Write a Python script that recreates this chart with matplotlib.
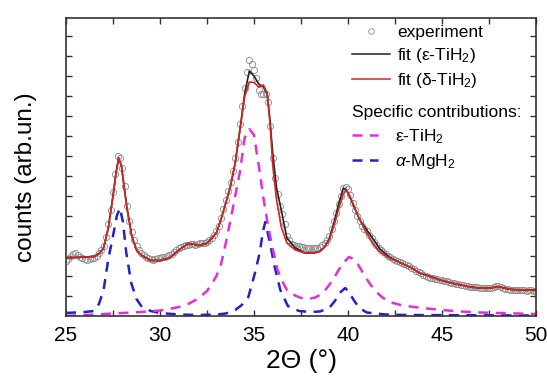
import numpy as np
import matplotlib
matplotlib.use("Agg")
import matplotlib.pyplot as plt
from matplotlib.lines import Line2D

plt.rcParams['font.family'] = ['Liberation Sans', 'DejaVu Sans']
plt.rcParams['mathtext.fontset'] = 'custom'
plt.rcParams['mathtext.rm'] = 'Liberation Sans'
plt.rcParams['mathtext.it'] = 'Liberation Sans:italic'

# measured pattern, 2theta step 0.125 deg from 25 to 50 (one row per degree)
exp_x = np.linspace(25, 50, 201)
exp_y = [55, 57, 60, 62, 63, 61, 59, 58,
         57, 56, 57, 58, 58, 60, 63, 66,
         70, 79, 92, 106, 124, 142, 160, 158,
         148, 130, 110, 95, 84, 76, 70, 66,
         63, 61, 59, 58, 57, 56, 57, 58,
         58, 59, 59, 60, 61, 62, 64, 66,
         68, 69, 70, 71, 71, 72, 72, 71,
         72, 73, 73, 73, 74, 76, 78, 81,
         85, 90, 98, 107, 116, 125, 134, 145,
         158, 174, 192, 210, 228, 244, 256, 252,
         246, 238, 226, 222, 222, 222, 214, 190,
         158, 138, 122, 110, 102, 92, 80, 76,
         72, 71, 70, 70, 69, 69, 68, 68,
         68, 68, 68, 68, 69, 71, 73, 76,
         80, 87, 95, 103, 112, 120, 128, 129,
         127, 121, 113, 106, 100, 95, 90, 87,
         85, 81, 78, 74, 71, 68, 66, 64,
         62, 60, 59, 57, 56, 55, 54, 53,
         52, 51, 50, 48, 47, 45, 44, 43,
         41, 40, 39, 38, 38, 37, 37, 36,
         36, 35, 35, 34, 33, 33, 32, 32,
         31, 31, 30, 30, 29, 29, 29, 29,
         28, 28, 28, 28, 28, 28, 29, 30,
         30, 29, 28, 27, 27, 26, 26, 26,
         26, 26, 26, 26, 25, 26, 26, 25,
         25]

# fits
fit_x = [25, 25.5, 26, 26.5, 26.75, 27, 27.25, 27.5, 27.65, 27.8, 27.95, 28.1,
         28.25, 28.5, 28.75, 29, 29.5, 30, 30.5, 31, 31.5, 31.75, 32, 32.5,
         33, 33.25, 33.5, 33.75, 34, 34.25, 34.5, 34.75, 35, 35.25, 35.5, 35.7,
         35.85, 36, 36.2, 36.45, 36.75, 37.2, 37.7, 38.2, 38.5, 38.75, 39, 39.25,
         39.5, 39.75, 39.92, 40.1, 40.3, 40.6, 41, 41.3, 41.7, 42.2, 42.8, 43.4,
         43.8, 44.3, 44.9, 45.5, 46, 46.5, 47, 47.6, 48, 48.3, 48.7, 49.3, 50]
fit_delta = [58, 58.5, 59, 59.5, 62, 68, 88, 120, 142, 158, 150, 128,
             107, 80, 66, 61, 55.5, 55.5, 58, 66, 72.5, 72, 70.5, 72.5,
             83, 97, 113, 130, 153, 186, 219, 234, 233.5, 229, 231, 223,
             193, 150, 116, 89, 73, 66, 63, 63, 64.5, 69, 76, 90,
             107, 122, 126, 120, 111, 97, 83, 73, 64, 58, 53, 48,
             43, 40, 36, 33, 31, 29, 28, 28, 29.5, 28, 26.5, 26, 26]
fit_eps = [58, 58.5, 59, 59.5, 62, 68, 88, 120, 142, 158, 150, 128,
           107, 80, 66, 61, 55.5, 55.5, 58, 66, 72.5, 72, 70.5, 72.5,
           83, 97, 113, 130, 153, 186, 222, 245, 240, 232, 229, 222,
           196, 162, 128, 106, 78, 68, 63, 63, 64.5, 69, 77, 93,
           112, 128, 126, 119, 110, 97, 86, 78, 67, 59, 53, 48,
           43, 40, 36, 33, 31, 29, 28, 28, 29.5, 28, 26.5, 26, 26]

# specific contributions
eps_x = [25, 26, 27, 28, 29, 30, 30.5, 31, 31.5, 32, 32.5, 32.75, 33, 33.25,
         33.5, 33.75, 34, 34.25, 34.5, 34.75, 35, 35.25, 35.5, 35.75, 36, 36.25,
         36.5, 36.75, 37, 37.5, 38, 38.25, 38.5, 38.75, 39, 39.25, 39.5, 39.75,
         40.05, 40.3, 40.55, 40.8, 41.1, 41.4, 41.8, 42.2, 42.8, 43.5, 44.2, 45,
         46, 47, 48, 49, 50]
eps_y = [0, 1, 2, 3, 4, 5.5, 7, 9, 12, 17, 25, 32, 40, 52,
         73, 96, 120, 144, 178, 187, 181, 151, 118, 90, 67, 46,
         35, 26, 22, 18, 17.5, 18.5, 21, 25, 31, 38, 46, 53,
         59, 57, 51, 43, 34, 26, 19, 14, 11, 9, 7.5, 6,
         4.5, 3.5, 3, 2.5, 2]
mg_x = [25, 25.5, 26, 26.5, 26.75, 27, 27.25, 27.5, 27.7, 27.87, 28.03, 28.2,
        28.47, 28.75, 29, 29.5, 30, 31, 32, 33, 33.5, 34, 34.35, 34.7, 35.05,
        35.3, 35.48, 35.6, 35.85, 36.1, 36.4, 36.8, 37.4, 38, 38.5, 39, 39.3,
        39.55, 39.85, 40.05, 40.3, 40.6, 41, 42, 43, 50]
mg_y = [3, 3.5, 4, 5, 12, 26, 57, 80, 100, 108, 94, 64,
        33, 17, 10, 5, 3, 1.5, 1, 1.5, 2.5, 6, 11, 19, 43,
        63, 85, 94, 73, 49, 26, 10, 5, 4, 4.5, 8, 15,
        23, 28, 24, 16, 8, 3.5, 1.5, 1, 0.5]

fig = plt.figure(figsize=(5.47, 3.78), dpi=100)
ax = fig.add_axes([66/547, 62/378, 470/547, 298/378])

ax.plot(mg_x, mg_y, color='#2222cc', lw=1.8, dashes=(4, 3))
ax.plot(eps_x, eps_y, color='#e030dc', lw=1.8, dashes=(4, 3))
ax.plot(exp_x, exp_y, 'o', ms=4.5, mfc='none', mec='#8a8a8a', mew=0.6)
ax.plot(fit_x, fit_eps, color='#222222', lw=1.2)
ax.plot(fit_x, fit_delta, color='#d42424', lw=1.2)

ax.set_xlim(25, 50)
ax.set_ylim(0, 298)
ax.set_xticks([25, 30, 35, 40, 45, 50])
ax.set_xticks(np.arange(25, 50, 2.5), minor=True)
ax.set_yticks(np.arange(20, 298, 20))
ax.tick_params(which='both', direction='in', top=True, right=True,
               length=4, width=1, color='#333333', labelsize=15, pad=7)
ax.tick_params(axis='y', labelleft=False)
for s in ax.spines.values():
    s.set_color('#333333')
    s.set_linewidth(1.2)

ax.set_xlabel('2Θ (°)', fontsize=19, labelpad=3)
ax.set_ylabel('counts (arb.un.)', fontsize=17.5)
ax.yaxis.set_label_coords(-0.062, 0.466)

h1 = [Line2D([], [], ls='none', marker='o', ms=4, mfc='none', mec='#8a8a8a', mew=0.6),
      Line2D([], [], color='#222222', lw=1.1),
      Line2D([], [], color='#d42424', lw=1.1)]
leg1 = ax.legend(h1, ['experiment', 'fit (ε-TiH$_2$)', 'fit (δ-TiH$_2$)'],
                 loc='upper left', bbox_to_anchor=(352/547, 1 - 25/378),
                 bbox_transform=fig.transFigure, frameon=False, fontsize=12.5,
                 borderpad=0, borderaxespad=0, handlelength=2.2,
                 handletextpad=0.4, labelspacing=0.35, numpoints=1)
ax.add_artist(leg1)
fig.text(352/547, 1 - 113/378, 'Specific contributions:', fontsize=12.5,
         va='center', ha='left')
h2 = [Line2D([], [], color='#e030dc', lw=1.8, dashes=(4, 3)),
      Line2D([], [], color='#2222cc', lw=1.8, dashes=(4, 3))]
ax.legend(h2, ['ε-TiH$_2$', r'$\it{\alpha}$-MgH$_2$'],
          loc='upper left', bbox_to_anchor=(352/547, 1 - 127/378),
          bbox_transform=fig.transFigure, frameon=False, fontsize=12.5,
          borderpad=0, borderaxespad=0, handlelength=1.5,
          handletextpad=1.0, labelspacing=0.35)

fig.savefig('out.png', dpi=100)
